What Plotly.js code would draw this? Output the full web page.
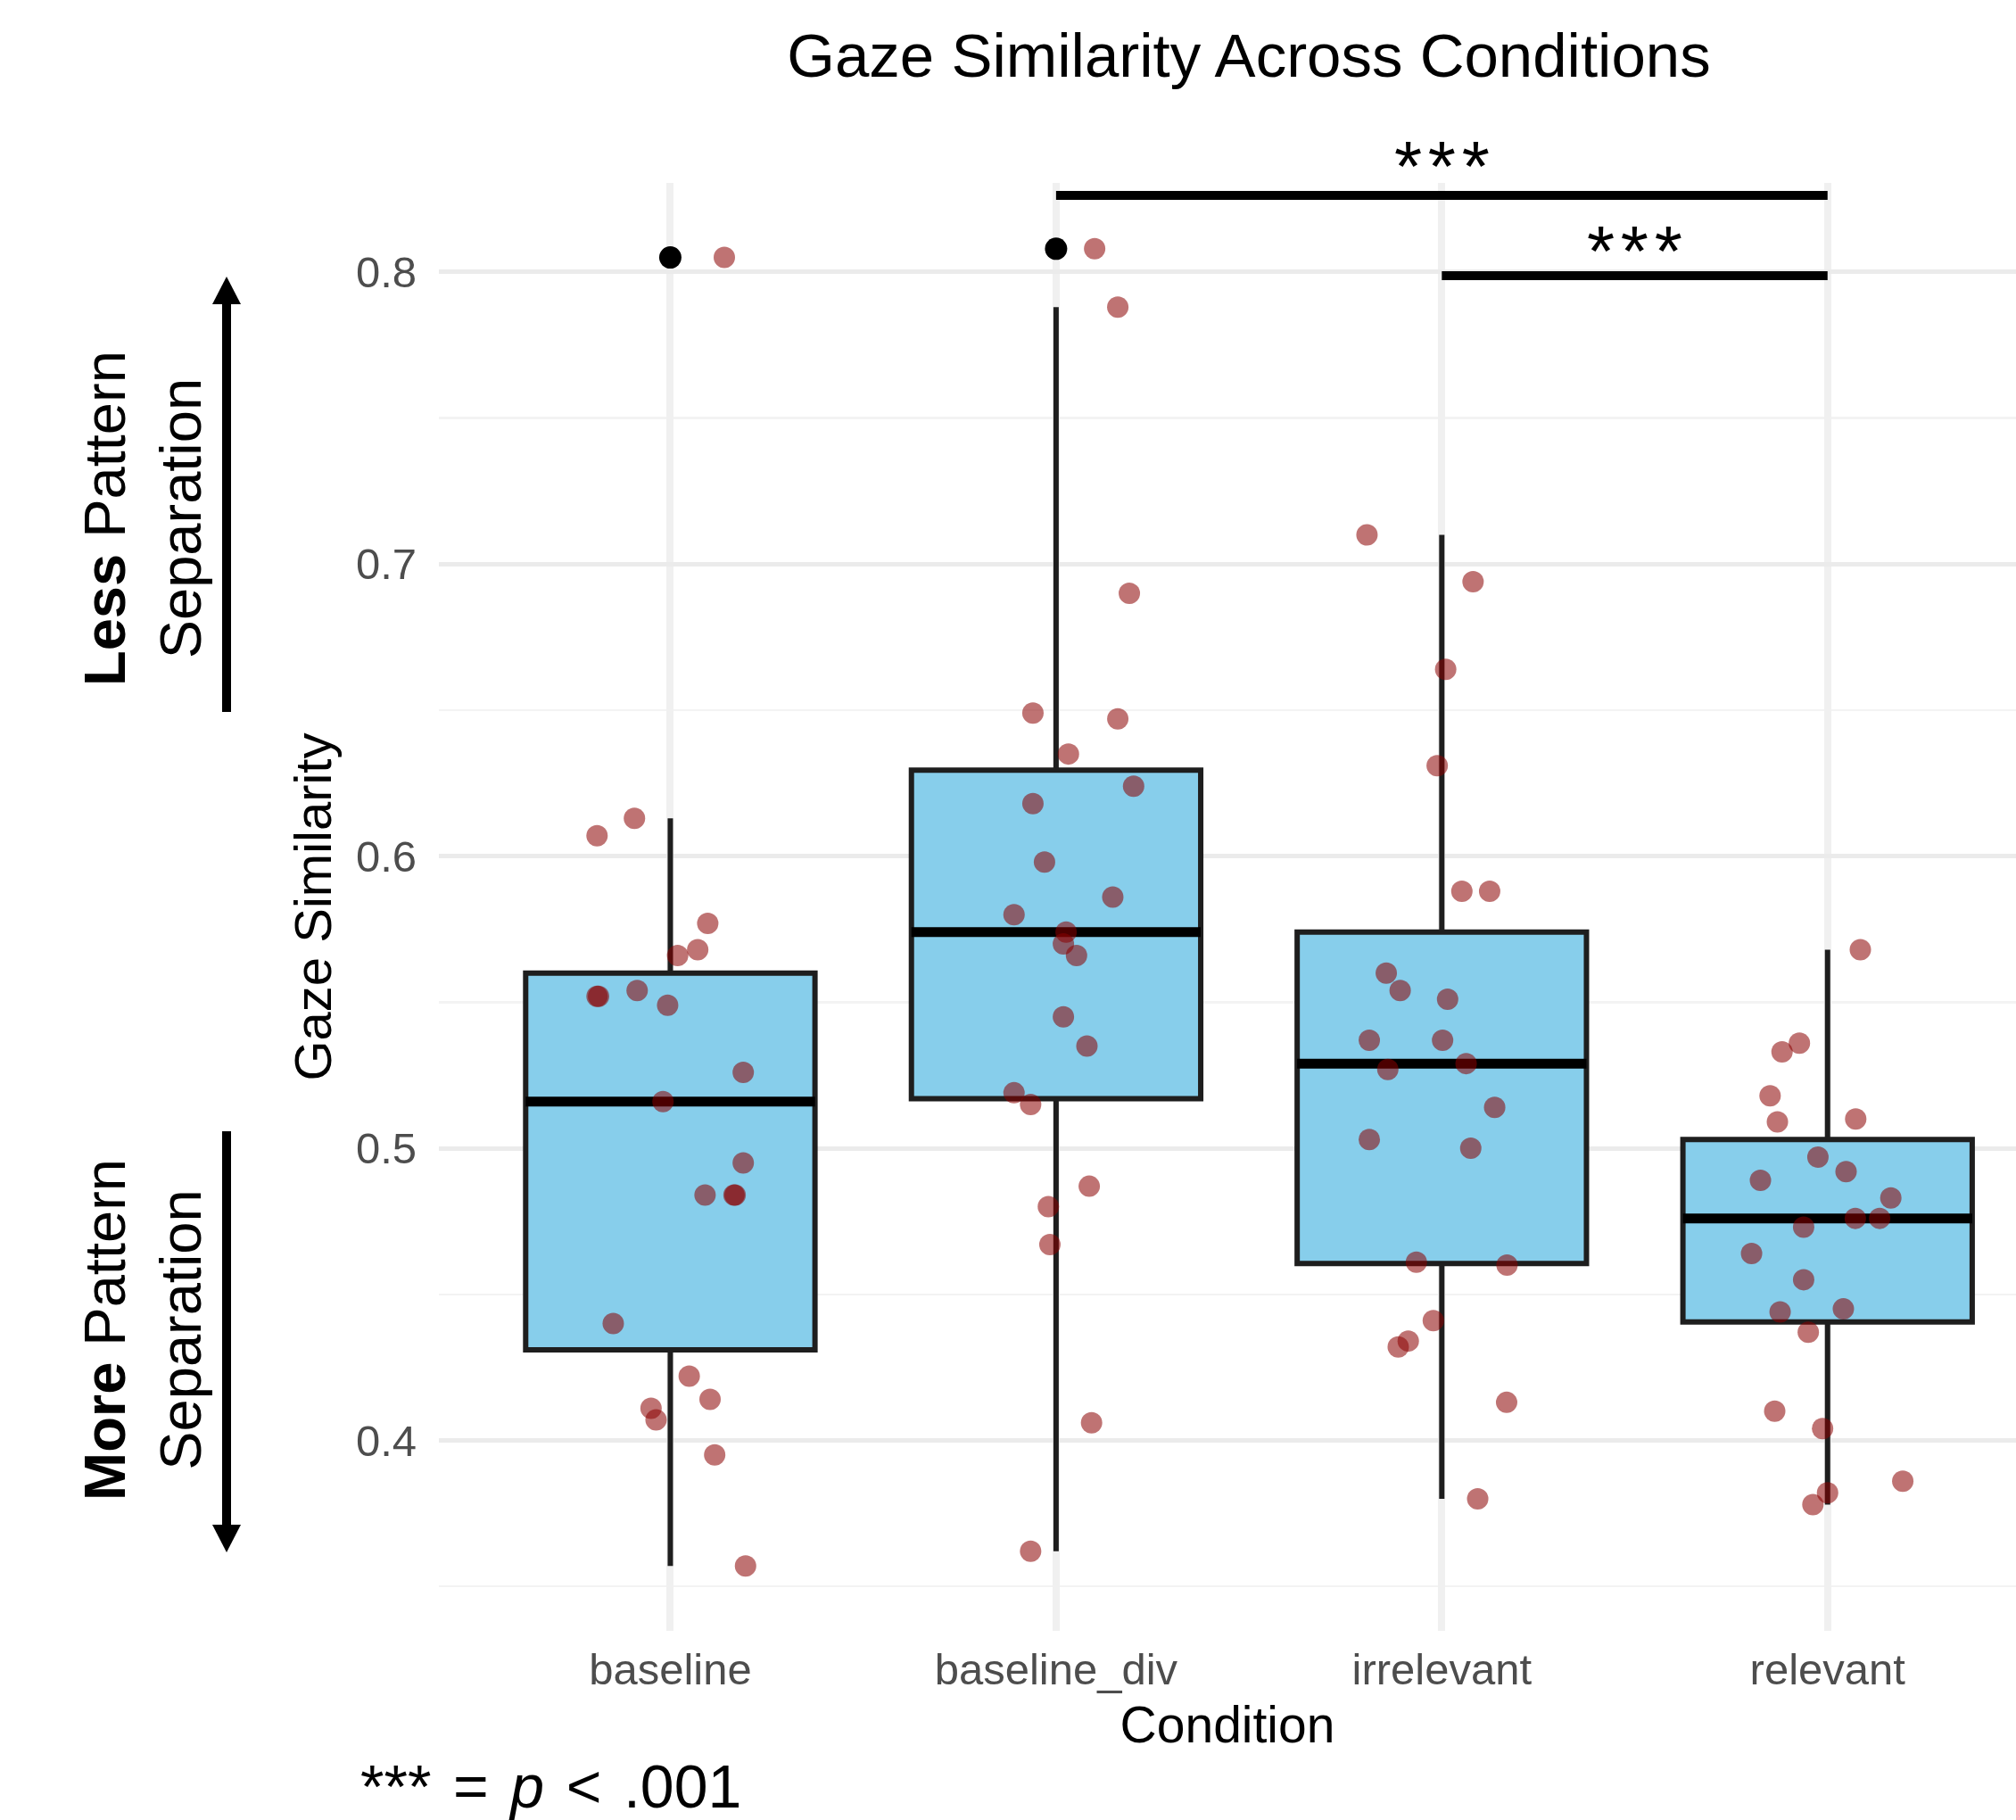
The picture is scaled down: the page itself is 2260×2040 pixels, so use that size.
<!DOCTYPE html>
<html>
<head>
<meta charset="utf-8">
<script src="https://cdn.plot.ly/plotly-3.0.1.min.js"></script>
<style>
  html, body { margin: 0; padding: 0; background: #ffffff; overflow: hidden; }
  #chart { width: 2260px; height: 2040px; }
</style>
</head>
<body>
<div id="chart"></div>
<script>
// ---------------- data ----------------
const categories = ['baseline', 'baseline_div', 'irrelevant', 'relevant'];

const baselineValues = [0.805, 0.613, 0.607, 0.577, 0.568, 0.566, 0.554, 0.552, 0.552, 0.549, 0.526, 0.516,
  0.495, 0.484, 0.484, 0.484, 0.440, 0.422, 0.414, 0.411, 0.407, 0.395, 0.357];
const baselineJitter = [0.140, -0.093, -0.190, 0.097, 0.071, 0.019, -0.086, -0.190, -0.186, -0.007, 0.189, -0.019,
  0.189, 0.090, 0.165, 0.168, -0.148, 0.049, 0.103, -0.050, -0.037, 0.115, 0.195];

const baselineDivValues = [0.808, 0.788, 0.690, 0.649, 0.647, 0.635, 0.624, 0.618, 0.598, 0.586, 0.580, 0.574,
  0.570, 0.566, 0.545, 0.535, 0.519, 0.515, 0.487, 0.480, 0.467, 0.406, 0.362];
const baselineDivJitter = [0.100, 0.160, 0.190, -0.060, 0.160, 0.032, 0.201, -0.060, -0.030, 0.147, -0.109, 0.026,
  0.019, 0.053, 0.019, 0.080, -0.109, -0.066, 0.086, -0.020, -0.016, 0.092, -0.066];

const irrelevantValues = [0.710, 0.694, 0.664, 0.631, 0.588, 0.588, 0.560, 0.554, 0.551, 0.537, 0.537, 0.529,
  0.527, 0.514, 0.503, 0.500, 0.461, 0.460, 0.441, 0.434, 0.432, 0.413, 0.380];
const irrelevantJitter = [-0.194, 0.081, 0.010, -0.012, 0.052, 0.124, -0.144, -0.108, 0.015, -0.188, 0.002, 0.063,
  -0.140, 0.137, -0.188, 0.075, -0.066, 0.169, -0.022, -0.087, -0.113, 0.168, 0.093];

const relevantValues = [0.568, 0.536, 0.533, 0.518, 0.510, 0.509, 0.497, 0.492, 0.489, 0.483, 0.476, 0.476,
  0.473, 0.464, 0.455, 0.445, 0.444, 0.437, 0.410, 0.404, 0.386, 0.382, 0.378];
const relevantJitter = [0.085, -0.073, -0.118, -0.149, 0.073, -0.130, -0.025, 0.048, -0.174, 0.164, 0.072, 0.135,
  -0.062, -0.197, -0.062, 0.041, -0.123, -0.050, -0.137, -0.013, 0.195, 0.000, -0.038];

// significance comparisons (category pairs) and bar heights
const sigPairs = [['baseline_div', 'relevant'], ['irrelevant', 'relevant']];
const sigHeights = [0.8263, 0.7988];
const sigLabels = ['***', '***'];

const yTickVals = [0.4, 0.5, 0.6, 0.7, 0.8];
const yTickText = ['0.4', '0.5', '0.6', '0.7', '0.8'];

// ---------------- helpers ----------------
const groups = [
  {values: baselineValues, jitter: baselineJitter},
  {values: baselineDivValues, jitter: baselineDivJitter},
  {values: irrelevantValues, jitter: irrelevantJitter},
  {values: relevantValues, jitter: relevantJitter}
];
function quantile(sorted, p) {
  const h = (sorted.length - 1) * p;
  const lo = Math.floor(h);
  const hi = Math.min(lo + 1, sorted.length - 1);
  return sorted[lo] + (h - lo) * (sorted[hi] - sorted[lo]);
}
const stats = groups.map(g => {
  const s = g.values.slice().sort((a, b) => a - b);
  const q1 = quantile(s, 0.25), med = quantile(s, 0.5), q3 = quantile(s, 0.75);
  const iqr = q3 - q1;
  const inside = s.filter(v => v >= q1 - 1.5 * iqr && v <= q3 + 1.5 * iqr);
  const outliers = s.filter(v => v < q1 - 1.5 * iqr || v > q3 + 1.5 * iqr);
  return {q1, med, q3, lo: inside[0], hi: inside[inside.length - 1], outliers};
});
const pos = categories.map((c, i) => i + 1);
const HALF = 0.375;

// pixel helpers for decorations in the margins
const W = 2260, H = 2040, ML = 492, MR = 0, MT = 205, MB = 212;
const PW = W - ML - MR, PH = H - MT - MB;
const xp = px => (px - ML) / PW;
const yp = py => (H - MB - py) / PH;

const FONT = 'Liberation Sans, Arial, Helvetica, sans-serif';
const DOT = 'rgba(139,0,0,0.55)';

// ---------------- traces ----------------
const traces = [];
traces.push({
  type: 'box',
  x: pos,
  q1: stats.map(s => s.q1),
  median: stats.map(s => s.med),
  q3: stats.map(s => s.q3),
  lowerfence: stats.map(s => s.lo),
  upperfence: stats.map(s => s.hi),
  width: 2 * HALF,
  whiskerwidth: 0,
  boxpoints: false,
  fillcolor: '#87CEEB',
  line: {color: '#1e1e1e', width: 6},
  showlegend: false,
  hoverinfo: 'skip'
});
// outliers (black, on the box centre)
const oX = [], oY = [];
stats.forEach((s, i) => s.outliers.forEach(v => { oX.push(pos[i]); oY.push(v); }));
traces.push({
  type: 'scatter', mode: 'markers', x: oX, y: oY,
  marker: {color: '#000000', size: 25},
  showlegend: false, hoverinfo: 'skip', cliponaxis: false
});
// thick median lines
const mX = [], mY = [];
stats.forEach((s, i) => { mX.push(pos[i] - HALF, pos[i] + HALF, null); mY.push(s.med, s.med, null); });
traces.push({
  type: 'scatter', mode: 'lines', x: mX, y: mY,
  line: {color: '#000000', width: 11},
  showlegend: false, hoverinfo: 'skip'
});
// jittered observations
groups.forEach((g, i) => {
  traces.push({
    type: 'scatter', mode: 'markers',
    x: g.values.map((v, k) => pos[i] + g.jitter[k]),
    y: g.values,
    marker: {color: DOT, size: 24, line: {width: 0}},
    showlegend: false, hoverinfo: 'skip', cliponaxis: false
  });
});

// ---------------- shapes ----------------
const shapes = [];
sigPairs.forEach((p, k) => {
  shapes.push({
    type: 'line', xref: 'x', yref: 'y',
    x0: categories.indexOf(p[0]) + 1, x1: categories.indexOf(p[1]) + 1,
    y0: sigHeights[k], y1: sigHeights[k],
    line: {color: '#000000', width: 10}
  });
});
function arrowShapes(shaftFrom, shaftTo, headBase, tip) {
  return [
    {type: 'line', xref: 'paper', yref: 'paper', x0: xp(254), x1: xp(254), y0: yp(shaftFrom), y1: yp(shaftTo),
     line: {color: '#000000', width: 10}},
    {type: 'path', xref: 'paper', yref: 'paper',
     path: `M ${xp(238)} ${yp(headBase)} L ${xp(270)} ${yp(headBase)} L ${xp(254)} ${yp(tip)} Z`,
     fillcolor: '#000000', line: {width: 0}}
  ];
}
shapes.push(...arrowShapes(798, 340, 341, 310));
shapes.push(...arrowShapes(1268, 1710, 1709, 1740));

// ---------------- annotations ----------------
const annotations = [];
sigPairs.forEach((p, k) => {
  annotations.push({
    xref: 'x', yref: 'y',
    x: (categories.indexOf(p[0]) + categories.indexOf(p[1])) / 2 + 1,
    y: sigHeights[k], yanchor: 'bottom', yshift: k === 0 ? -14 : -19,
    text: sigLabels[k].split('').join('\u200A'),
    showarrow: false, font: {family: FONT, size: 80, color: '#000000'}
  });
});
annotations.push({
  xref: 'paper', yref: 'paper', x: xp(160), y: yp(581), xanchor: 'center', yanchor: 'middle',
  text: '<b>Less</b> Pattern<br>Separation', textangle: -90, align: 'center',
  showarrow: false, font: {family: FONT, size: 65, color: '#000000'}
});
annotations.push({
  xref: 'paper', yref: 'paper', x: xp(160), y: yp(1491), xanchor: 'center', yanchor: 'middle',
  text: '<b>More</b> Pattern<br>Separation', textangle: -90, align: 'center',
  showarrow: false, font: {family: FONT, size: 65, color: '#000000'}
});
annotations.push({
  xref: 'paper', yref: 'paper', x: xp(402), y: yp(2002), xanchor: 'left', yanchor: 'middle',
  text: '***\u200A = \u200A<i>p</i>\u200A &lt; \u200A.001',
  showarrow: false, font: {family: FONT, size: 68, color: '#000000'}
});

// ---------------- layout ----------------
const layout = {
  width: W, height: H,
  margin: {l: ML, r: MR, t: MT, b: MB, pad: 0},
  paper_bgcolor: '#ffffff', plot_bgcolor: '#ffffff',
  font: {family: FONT, color: '#000000'},
  title: {
    text: 'Gaze Similarity Across Conditions',
    xref: 'container', yref: 'container',
    x: 1400 / W, xanchor: 'center',
    y: 1 - 62 / H, yanchor: 'middle',
    font: {family: FONT, size: 69, color: '#000000'}
  },
  xaxis: {
    range: [0.4, 0.4 + PW / 432.43],
    tickmode: 'array', tickvals: pos, ticktext: categories,
    tickfont: {family: FONT, size: 49, color: '#4D4D4D'},
    ticks: '', ticklabelstandoff: 10,
    showgrid: true, gridcolor: '#F0F0F0', gridwidth: 8,
    zeroline: false, showline: false, fixedrange: true,
    title: {text: 'Condition', standoff: 16, font: {family: FONT, size: 57, color: '#000000'}}
  },
  yaxis: {
    range: [0.33476, 0.83054],
    tickmode: 'array', tickvals: yTickVals, ticktext: yTickText,
    tickfont: {family: FONT, size: 49, color: '#4D4D4D'},
    ticks: '', ticklabelstandoff: 24,
    showgrid: true, gridcolor: '#EBEBEB', gridwidth: 5,
    minor: {tickmode: 'linear', tick0: 0.35, dtick: 0.1, showgrid: true, gridcolor: '#F3F3F3', gridwidth: 2.5, ticks: ''},
    zeroline: false, showline: false, fixedrange: true,
    title: {text: 'Gaze Similarity', standoff: 8, font: {family: FONT, size: 58, color: '#000000'}}
  },
  shapes: shapes,
  annotations: annotations,
  showlegend: false
};

Plotly.newPlot('chart', traces, layout, {displayModeBar: false, staticPlot: true});
</script>
</body>
</html>
